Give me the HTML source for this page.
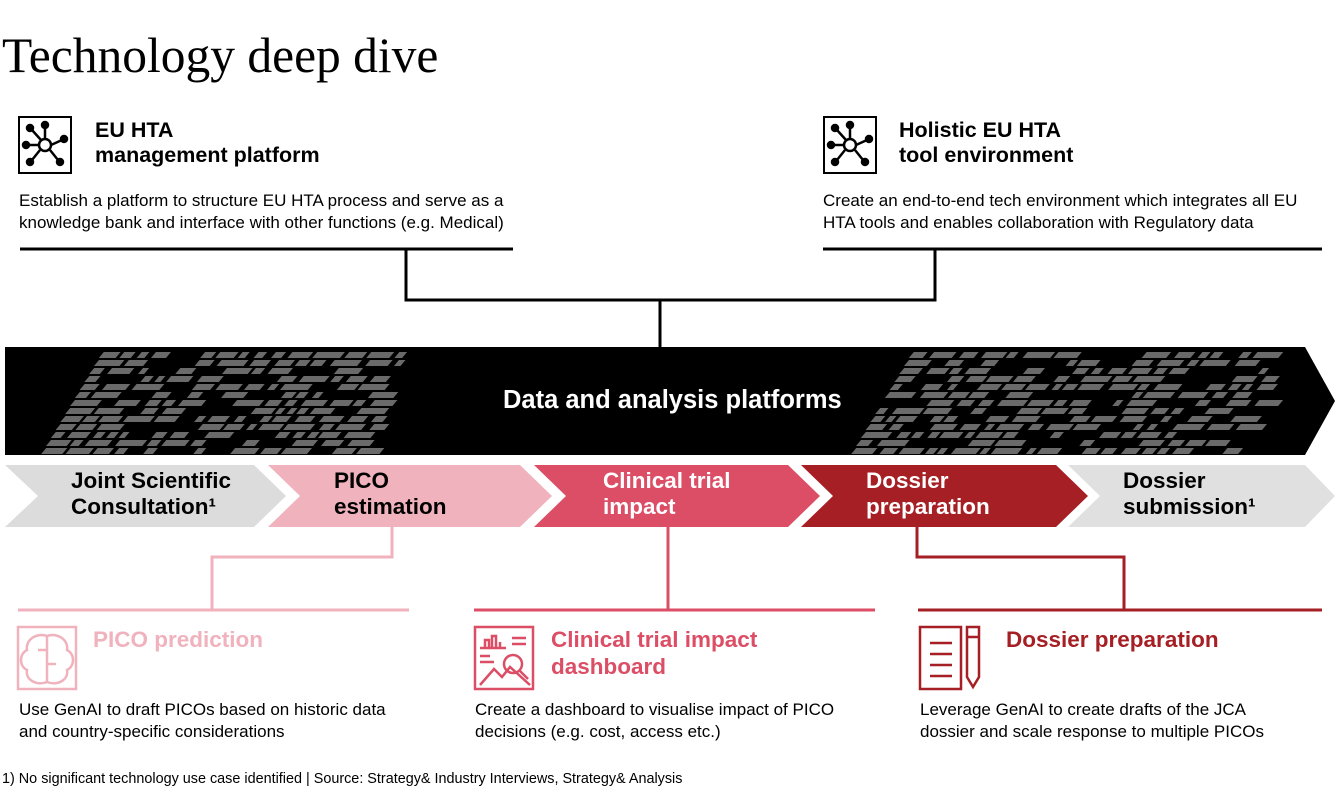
<!DOCTYPE html>
<html><head><meta charset="utf-8"><style>
body{margin:0;width:1340px;height:812px;background:#fff;position:relative;overflow:hidden;font-family:"Liberation Sans",Arial,sans-serif;color:#000}
.a{position:absolute;white-space:nowrap}
.h{font-weight:bold;font-size:21.5px;line-height:25px}
.d{font-size:17px;line-height:22px}
.c{font-weight:bold;font-size:22.5px;line-height:26px}
.s{font-weight:bold;font-size:22.5px;line-height:27px}
</style></head><body>
<div class="a" style="left:2px;top:27px;font-family:'Liberation Serif',serif;font-size:49.5px">Technology deep dive</div>

<svg class="a" style="left:0;top:0" width="1340" height="812">
 <defs>
  <g id="net" fill="none" stroke="#000" stroke-width="2.5">
   <rect x="1" y="1" width="52" height="56" stroke-width="2"/>
   <circle cx="27" cy="29" r="6"/>
   <line x1="27" y1="23" x2="27" y2="12"/><circle cx="27" cy="9" r="3" fill="#000"/>
   <line x1="21" y1="29" x2="10" y2="29"/><circle cx="8" cy="29" r="3" fill="#000"/>
   <line x1="33" y1="29" x2="44" y2="24"/><circle cx="46" cy="23" r="3" fill="#000"/>
   <line x1="22" y1="34" x2="14" y2="44"/><circle cx="12" cy="46" r="3" fill="#000"/>
   <line x1="32" y1="34" x2="40" y2="44"/><circle cx="42" cy="46" r="3" fill="#000"/>
   <line x1="23" y1="24" x2="14" y2="14"/><circle cx="12" cy="12" r="3" fill="#000"/>
  </g>
 </defs>
 <use href="#net" x="18" y="116"/>
 <use href="#net" x="823" y="116"/>
 <g stroke="#000" stroke-width="3" fill="none">
  <line x1="20" y1="249" x2="513" y2="249"/>
  <line x1="823" y1="249" x2="1322" y2="249"/>
  <polyline points="406,249 406,300 935,300 935,249"/>
  <line x1="660" y1="300" x2="660" y2="348"/>
 </g>
 <polygon points="5,347 1305,347 1335,401 1305,455 5,455" fill="#000"/>
 <g id="pat" fill="#6a6a6a"></g>
 <polygon points="5,465 254,465 286,496 254,527 5,527 38,496" fill="#dcdcdc"/>
 <polygon points="268,465 520,465 552,496 520,527 268,527 300,496" fill="#f0b2bd"/>
 <polygon points="534,465 788,465 820,496 788,527 534,527 566,496" fill="#dc4e66"/>
 <polygon points="801,465 1056,465 1088,496 1056,527 801,527 833,496" fill="#a51f24"/>
 <polygon points="1068,465 1305,465 1335,496 1305,527 1068,527 1100,496" fill="#e0e0e0"/>
 <g fill="none" stroke-width="3">
  <polyline stroke="#f0b2bd" points="392,527 392,557 212,557 212,610"/>
  <line stroke="#f0b2bd" x1="18" y1="610" x2="409" y2="610"/>
  <line stroke="#dc4e66" x1="668" y1="527" x2="668" y2="610"/>
  <line stroke="#dc4e66" x1="474" y1="610" x2="875" y2="610"/>
  <polyline stroke="#a51f24" points="917,527 917,557 1124,557 1124,610"/>
  <line stroke="#a51f24" x1="918" y1="610" x2="1322" y2="610"/>
 </g>
 <g fill="none" stroke="#f0b2bd" stroke-width="2.5">
  <rect x="18" y="627" width="58" height="62"/>
  <path d="M47 636 c-10 -4 -22 4 -20 14 c-8 4 -8 16 0 20 c-2 10 10 16 20 12 c10 4 22 -2 20 -12 c8 -4 8 -16 0 -20 c2 -10 -10 -18 -20 -14 z M47 636 v46 M38 650 h9 M47 664 h9"/>
 </g>
 <g fill="none" stroke="#dc4e66" stroke-width="2.5">
  <rect x="475" y="627" width="58" height="62"/>
  <path d="M480 648 h26 M485 648 v-8 h4 v8 M492 648 v-12 h4 v12 M500 648 v-6 M512 638 h14 M512 644 h14 M480 656 h10 M480 662 h14 M480 685 l14 -16 l8 8 l8 -10 l20 18"/>
  <circle cx="513" cy="664" r="9"/><line x1="520" y1="671" x2="528" y2="679"/>
 </g>
 <g fill="none" stroke="#a51f24" stroke-width="2.5">
  <rect x="920" y="627" width="41" height="62"/>
  <path d="M930 643 h22 M930 654 h22 M930 665 h22 M930 676 h22 M967 627 h12 v50 l-6 10 l-6 -10 z M967 637 h12"/>
 </g>
</svg>

<div class="a h" style="left:95px;top:118px">EU HTA<br>management platform</div>
<div class="a h" style="left:899px;top:118px">Holistic EU HTA<br>tool environment</div>
<div class="a d" style="left:19px;top:190px">Establish a platform to structure EU HTA process and serve as a<br>knowledge bank and interface with other functions (e.g. Medical)</div>
<div class="a d" style="left:823px;top:190px">Create an end-to-end tech environment which integrates all EU<br>HTA tools and enables collaboration with Regulatory data</div>
<div class="a" style="left:503px;top:386px;color:#fff;font-weight:bold;font-size:25.5px">Data and analysis platforms</div>

<div class="a c" style="left:71px;top:468px">Joint Scientific<br>Consultation¹</div>
<div class="a c" style="left:334px;top:468px">PICO<br>estimation</div>
<div class="a c" style="left:603px;top:468px;color:#fff">Clinical trial<br>impact</div>
<div class="a c" style="left:866px;top:468px;color:#fff">Dossier<br>preparation</div>
<div class="a c" style="left:1123px;top:468px">Dossier<br>submission¹</div>

<div class="a s" style="left:93px;top:626px;color:#f0b2bd">PICO prediction</div>
<div class="a s" style="left:551px;top:626px;color:#dc4e66">Clinical trial impact<br>dashboard</div>
<div class="a s" style="left:1006px;top:626px;color:#a51f24">Dossier preparation</div>

<div class="a d" style="left:19px;top:699px">Use GenAI to draft PICOs based on historic data<br>and country-specific considerations</div>
<div class="a d" style="left:475px;top:699px">Create a dashboard to visualise impact of PICO<br>decisions (e.g. cost, access etc.)</div>
<div class="a d" style="left:920px;top:699px">Leverage GenAI to create drafts of the JCA<br>dossier and scale response to multiple PICOs</div>

<div class="a" style="left:2px;top:771px;font-size:14.4px">1) No significant technology use case identified | Source: Strategy&amp; Industry Interviews, Strategy&amp; Analysis</div>

<script>
(function(){
 var g=document.getElementById('pat'),s=7,h='';
 function r(){s=(s*9301+49297)%233280;return s/233280;}
 var regions=[[40,400],[850,1270]];
 regions.forEach(function(R){
  for(var y=352;y<450;y+=8){
   var x=R[0]+(450-y)*0.6;
   var end=R[1]-(y-352)*0.3;
   while(x<end){
    var w=6+r()*22;
    if(r()>0.25)h+='<polygon points="'+(x+5)+','+y+' '+(x+5+w)+','+y+' '+(x+w)+','+(y+6)+' '+x+','+(y+6)+'"/>';
    x+=w+3+r()*6;
   }
  }
 });
 g.innerHTML=h;
})();
</script>
</body></html>
